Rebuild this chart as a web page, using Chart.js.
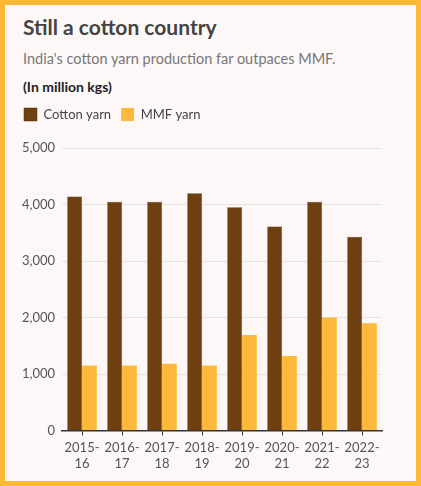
<!DOCTYPE html>
<html>
<head>
<meta charset="utf-8">
<script src="https://cdn.jsdelivr.net/npm/chart.js@4"></script>
<style>
  html, body { margin: 0; padding: 0; }
  body { width: 421px; height: 486px; overflow: hidden; font-family: Lato, sans-serif; }
  #frame {
    position: relative; box-sizing: border-box; width: 421px; height: 486px;
    border: 5px solid #fbb936; background: #fdf8f7;
  }
  #title { position: absolute; left: 18px; top: 9px; font-size: 21px; font-weight: 700; color: #444; }
  #sub { position: absolute; left: 18px; top: 45px; font-size: 14.5px; color: #777; }
  #unit { position: absolute; left: 18px; top: 73px; font-size: 14px; font-weight: 700; color: #222; }
  #wrap { position: absolute; left: 0; top: 93px; width: 410px; height: 378px; }
</style>
</head>
<body>
<div id="frame">
  <div id="title">Still a cotton country</div>
  <div id="sub">India's cotton yarn production far outpaces MMF.</div>
  <div id="unit">(In million kgs)</div>
  <div id="wrap"><canvas id="graph"></canvas></div>
</div>
<script>
var years = [['2015-', '16'], ['2016-', '17'], ['2017-', '18'], ['2018-', '19'],
             ['2019-', '20'], ['2020-', '21'], ['2021-', '22'], ['2022-', '23']];
var cottonYarn = [4140, 4050, 4050, 4200, 3950, 3610, 4050, 3430];
var mmfYarn = [1150, 1150, 1180, 1150, 1690, 1320, 2000, 1900];
var yTicks = [0, 1000, 2000, 3000, 4000, 5000];

var ctx = document.getElementById('graph');

// extra room between the legend and the plot
var legendGap = {
  id: 'legendGap',
  beforeInit: function (chart) {
    var fit = chart.legend.fit;
    chart.legend.fit = function () {
      fit.bind(chart.legend)();
      this.height += 17;
    };
  }
};

var config = {
  type: 'bar',
  data: {
    labels: years,
    datasets: [{
      label: 'Cotton yarn',
      data: cottonYarn,
      backgroundColor: '#6e3f10',
      borderColor: '#5a320b',
      borderWidth: 0.5
    }, {
      label: 'MMF yarn',
      data: mmfYarn,
      backgroundColor: '#fdb93b'
    }]
  },
  options: {
    responsive: true,
    maintainAspectRatio: false,
    animation: false,
    datasets: {
      bar: { categoryPercentage: 0.74, barPercentage: 1 }
    },
    layout: { padding: { left: 9, right: 33, top: 0, bottom: 0 } },
    plugins: {
      legend: {
        position: 'top',
        align: 'start',
        labels: {
          boxWidth: 13,
          boxHeight: 13,
          padding: 10,
          color: '#444',
          font: { family: 'Lato', size: 13 }
        }
      },
      tooltip: { enabled: false }
    },
    scales: {
      x: {
        grid: { display: true, drawOnChartArea: false, offset: false, tickLength: 5, color: '#333' },
        border: { color: '#333', width: 1.5 },
        ticks: { color: '#555', padding: 4, font: { family: 'Lato', size: 13, lineHeight: 1.25 }, maxRotation: 0 }
      },
      y: {
        min: 0,
        max: 5000,
        afterBuildTicks: function (axis) {
          axis.ticks = yTicks.map(function (v) { return { value: v }; });
        },
        afterFit: function (axis) { axis.width = 48; },
        grid: { color: '#e6e2e0', drawTicks: false },
        border: { display: false },
        ticks: {
          color: '#555',
          padding: 7,
          font: { family: 'Lato', size: 13 },
          callback: function (v) { return v.toLocaleString('en-US'); }
        }
      }
    }
  },
  plugins: [legendGap]
};

var myBarChart = new Chart(ctx, config);
</script>
</body>
</html>
